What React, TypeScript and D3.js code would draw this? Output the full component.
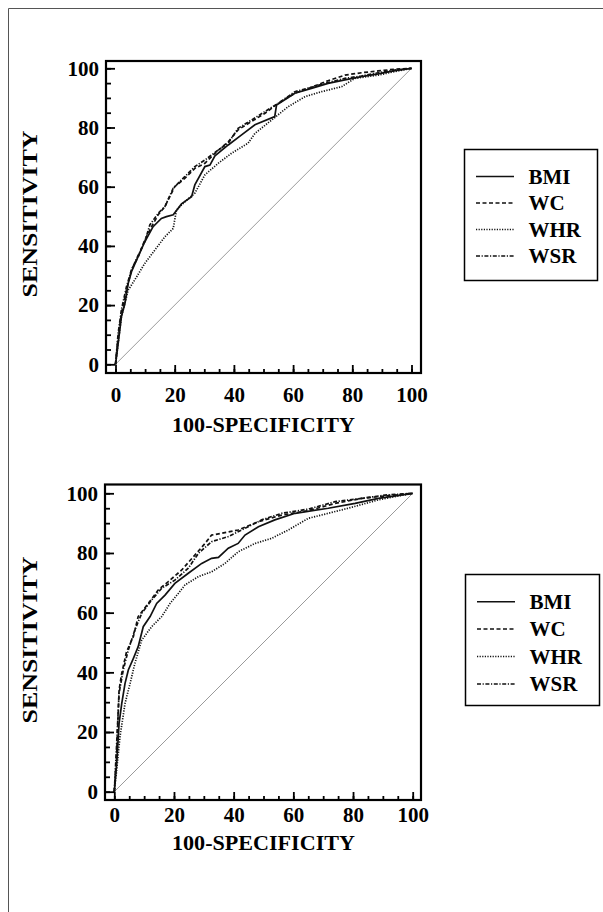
import React, { useEffect, useRef } from "react";
import * as d3 from "d3";

// axis ticks
const majorTicks = [0, 20, 40, 60, 80, 100];
const minorTicks = [0, 5, 10, 15, 20, 25, 30, 35, 40, 45, 50, 55, 60, 65, 70, 75, 80, 85, 90, 95, 100];
const seriesNames = ["BMI", "WC", "WHR", "WSR"];
const xTitle = "100-SPECIFICITY";
const yTitle = "SENSITIVITY";

// top panel, [100-specificity, sensitivity]
const topBMI = [
  [0, 0], [0.9, 7.1], [2.0, 16.1], [3.2, 20.6], [4.3, 27.4], [5.4, 31.3], [7.1, 35.2], [9.9, 41.4],
  [12.7, 46.5], [15.5, 49.3], [17.2, 49.9], [19.5, 50.5], [22.3, 54.2], [25.7, 56.6], [26.8, 60.6],
  [30.2, 66.8], [31.9, 67.3], [33.6, 70.4], [38.1, 74.1], [42.6, 77.5], [47.1, 80.9], [53.8, 83.7],
  [54.4, 87.6], [60.6, 91.6], [66.2, 93.2], [71.8, 94.9], [77.5, 96.1], [83.1, 97.2], [88.7, 98.1],
  [94.4, 99.2], [100, 100],
];
const topWC = [
  [0, 0], [0.9, 9.3], [2.0, 17.2], [3.7, 25.1], [5.4, 31.9], [7.7, 36.4], [9.9, 42.0], [12.2, 46.5],
  [14.4, 50.5], [16.7, 53.3], [20.0, 60.0], [23.4, 62.8], [26.8, 66.2], [30.2, 67.9], [33.6, 71.3],
  [38.1, 75.2], [41.4, 79.2], [45.9, 82.0], [50.5, 84.8], [55.0, 88.2], [60.6, 91.6], [66.2, 93.6],
  [71.8, 95.8], [77.5, 97.7], [83.1, 98.5], [88.7, 99.1], [94.4, 99.7], [100, 100],
];
const topWHR = [
  [0, 0], [0.9, 7.1], [2.0, 16.1], [4.3, 25.1], [6.5, 28.5], [9.9, 34.1], [13.3, 38.6], [16.7, 43.1],
  [19.5, 45.9], [20.6, 52.1], [23.4, 54.9], [26.8, 57.8], [30.2, 64.0], [34.7, 67.9], [39.2, 71.3],
  [44.8, 74.7], [47.1, 78.0], [52.7, 82.5], [58.3, 87.0], [64.0, 90.4], [69.6, 92.1], [76.4, 93.8],
  [80.9, 96.6], [88.7, 97.7], [94.4, 98.9], [100, 100],
];
const topWSR = [
  [0, 0], [0.9, 10.5], [2.0, 18.4], [3.7, 26.2], [5.4, 31.9], [7.7, 36.9], [9.9, 41.4], [11.6, 47.1],
  [14.4, 51.0], [16.7, 53.3], [19.5, 59.5], [23.4, 63.4], [26.8, 66.8], [30.2, 69.0], [34.7, 72.4],
  [38.1, 74.7], [41.4, 79.7], [45.9, 82.5], [50.5, 85.4], [55.0, 88.2], [60.6, 92.1], [66.2, 93.6],
  [71.8, 95.2], [77.5, 96.6], [83.1, 97.4], [88.7, 98.5], [94.4, 99.4], [100, 100],
];

// bottom panel
const bottomBMI = [
  [0, 0], [0.8, 9.5], [1.6, 22.9], [2.5, 29.6], [3.6, 36.3], [4.7, 40.8], [6.4, 44.7], [8.0, 48.6],
  [9.7, 55.3], [12.0, 58.7], [14.2, 63.1], [17.0, 65.9], [20.3, 69.8], [24.8, 73.2], [29.3, 76.5],
  [32.6, 78.2], [34.9, 78.5], [38.2, 81.6], [41.5, 83.2], [43.8, 86.0], [48.3, 88.8], [53.8, 91.1],
  [60.6, 93.3], [71.7, 95.0], [80.7, 96.6], [88.5, 98.3], [100, 100],
];
const bottomWC = [
  [0, 0], [0.8, 12.8], [1.6, 34.1], [2.5, 39.7], [4.1, 46.9], [6.4, 52.0], [8.0, 58.7], [11.4, 63.1],
  [14.7, 67.6], [18.1, 70.4], [22.6, 74.3], [27.0, 79.3], [30.4, 83.2], [32.6, 86.0], [36.0, 86.6],
  [41.5, 87.7], [48.3, 90.5], [56.1, 92.7], [65.0, 94.2], [74.0, 96.6], [82.9, 98.3], [90.7, 99.1],
  [100, 100],
];
const bottomWHR = [
  [0, 0], [0.8, 7.3], [1.9, 18.4], [3.6, 29.6], [5.3, 36.3], [6.9, 43.0], [9.2, 50.8], [12.5, 55.3],
  [15.9, 58.7], [18.7, 63.1], [21.5, 66.5], [23.7, 69.3], [28.2, 72.1], [32.6, 73.7], [37.1, 76.5],
  [41.5, 80.4], [47.2, 83.2], [52.7, 84.9], [58.3, 87.7], [65.0, 91.6], [71.7, 93.3], [78.4, 95.0],
  [88.5, 97.8], [100, 100],
];
const bottomWSR = [
  [0, 0], [0.8, 16.2], [1.6, 33.0], [3.0, 40.8], [4.7, 47.5], [6.9, 54.2], [9.2, 59.8], [12.5, 64.2],
  [15.9, 68.2], [20.3, 70.9], [24.8, 74.9], [28.2, 79.9], [32.6, 83.8], [38.2, 85.5], [42.7, 87.7],
  [49.4, 91.1], [56.1, 93.3], [65.0, 94.7], [74.0, 97.2], [82.9, 98.3], [90.7, 99.4], [100, 100],
];

const dashes: Record<string, string | null> = {
  BMI: null,
  WC: "4,2.5",
  WHR: "1.2,1.4",
  WSR: "4,1.6,1.2,1.6",
};

const FONT = "'Liberation Serif', 'Times New Roman', serif";

const panels = [
  {
    series: [topBMI, topWC, topWHR, topWSR],
    px: [115.5, 411.5], py: [364.3, 68.3],
    frame: { l: 106, t: 61, r: 421, b: 373 },
    xPad: 14, xTitleY: 432, yTitleX: 37, yTitleY: 214,
    legend: { x: 464.5, y: 149.5, w: 133, h: 131, first: 27, step: 26.5 },
  },
  {
    series: [bottomBMI, bottomWC, bottomWHR, bottomWSR],
    px: [114.3, 412.7], py: [791.7, 493.3],
    frame: { l: 105, t: 484.5, r: 421, b: 800 },
    xPad: 7, xTitleY: 850, yTitleX: 37, yTitleY: 640,
    legend: { x: 465.5, y: 574.5, w: 134, h: 131, first: 27.2, step: 27.4 },
  },
];

export default function App() {
  const ref = useRef<SVGSVGElement>(null);

  useEffect(() => {
    const svg = d3.select(ref.current);
    svg.selectAll("*").remove();

    // outer border
    svg
      .append("path")
      .attr("d", "M8.5,912V8.5H603")
      .attr("fill", "none")
      .attr("stroke", "#555")
      .attr("stroke-width", 1);

    panels.forEach((p) => {
      const x = d3.scaleLinear().domain([0, 100]).range(p.px);
      const y = d3.scaleLinear().domain([0, 100]).range(p.py);
      const line = d3
        .line<number[]>()
        .x((d) => x(d[0]))
        .y((d) => y(d[1]));
      const g = svg.append("g");
      const f = p.frame;

      g.append("path")
        .datum([[0, 0], [100, 100]])
        .attr("d", line)
        .attr("fill", "none")
        .attr("stroke", "#9a9a9a")
        .attr("stroke-width", 1);

      p.series.forEach((s, i) => {
        g.append("path")
          .datum(s)
          .attr("d", line)
          .attr("fill", "none")
          .attr("stroke", "#111")
          .attr("stroke-width", 1.7)
          .attr("stroke-dasharray", dashes[seriesNames[i]]);
      });

      g.append("rect")
        .attr("x", f.l)
        .attr("y", f.t)
        .attr("width", f.r - f.l)
        .attr("height", f.b - f.t)
        .attr("fill", "none")
        .attr("stroke", "#000")
        .attr("stroke-width", 2.2);

      const styleAxis = (a) => {
        a.select(".domain").remove();
        a.selectAll("line").attr("stroke", "#000").attr("stroke-width", 1.8);
        a.attr("font-family", FONT).attr("font-size", 21).attr("font-weight", "bold");
        a.selectAll("text").attr("fill", "#000");
      };

      const leftMinor = g
        .append("g")
        .attr("transform", `translate(${f.l},0)`)
        .call(d3.axisLeft(y).tickValues(minorTicks).tickSize(-5).tickFormat(() => ""));
      styleAxis(leftMinor);
      const leftMajor = g
        .append("g")
        .attr("transform", `translate(${f.l},0)`)
        .call(d3.axisLeft(y).tickValues(majorTicks).tickSize(-9).tickPadding(7).tickFormat(d3.format("d")));
      styleAxis(leftMajor);

      const bottomMinor = g
        .append("g")
        .attr("transform", `translate(0,${f.b})`)
        .call(d3.axisBottom(x).tickValues(minorTicks).tickSize(-4).tickFormat(() => ""));
      styleAxis(bottomMinor);
      const bottomMajor = g
        .append("g")
        .attr("transform", `translate(0,${f.b})`)
        .call(d3.axisBottom(x).tickValues(majorTicks).tickSize(-8).tickPadding(p.xPad).tickFormat(d3.format("d")));
      styleAxis(bottomMajor);

      g.append("text")
        .attr("x", (p.px[0] + p.px[1]) / 2)
        .attr("y", p.xTitleY)
        .attr("text-anchor", "middle")
        .attr("font-family", FONT)
        .attr("font-weight", "bold")
        .attr("font-size", 21)
        .attr("textLength", 183)
        .attr("lengthAdjust", "spacingAndGlyphs")
        .text(xTitle);

      g.append("text")
        .attr("transform", `translate(${p.yTitleX},${p.yTitleY}) rotate(-90)`)
        .attr("text-anchor", "middle")
        .attr("font-family", FONT)
        .attr("font-weight", "bold")
        .attr("font-size", 22)
        .attr("textLength", 167)
        .attr("lengthAdjust", "spacingAndGlyphs")
        .text(yTitle);

      const L = p.legend;
      const lg = g.append("g");
      lg.append("rect")
        .attr("x", L.x)
        .attr("y", L.y)
        .attr("width", L.w)
        .attr("height", L.h)
        .attr("fill", "#fff")
        .attr("stroke", "#000")
        .attr("stroke-width", 1.5);
      seriesNames.forEach((name, i) => {
        const cy = L.y + L.first + i * L.step;
        lg.append("line")
          .attr("x1", L.x + 11.5)
          .attr("x2", L.x + 49.5)
          .attr("y1", cy)
          .attr("y2", cy)
          .attr("stroke", "#111")
          .attr("stroke-width", 1.5)
          .attr("stroke-dasharray", dashes[name]);
        lg.append("text")
          .attr("x", L.x + 64)
          .attr("y", cy + 7)
          .attr("font-family", FONT)
          .attr("font-weight", "bold")
          .attr("font-size", 21)
          .text(name);
      });
    });
  }, []);

  return (
    <svg
      ref={ref}
      width={603}
      height={912}
      style={{ position: "absolute", left: 0, top: 0, background: "#fff" }}
    />
  );
}
